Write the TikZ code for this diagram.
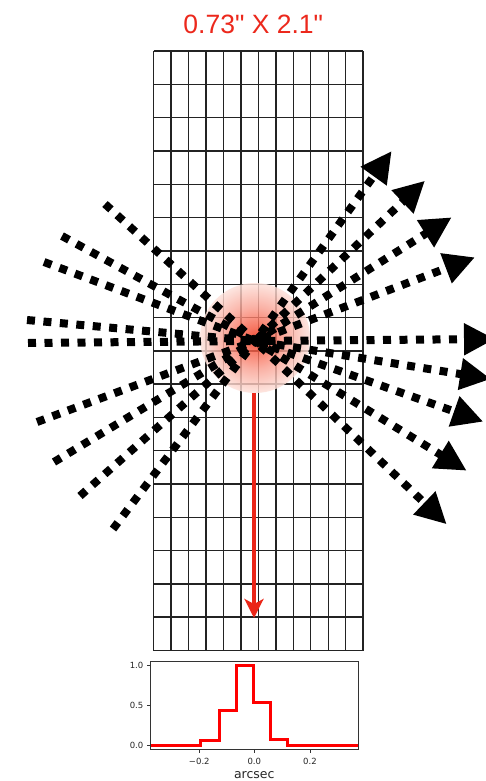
\documentclass[tikz,border=0pt]{standalone}
\usepackage{fontspec}
\setmainfont{Liberation Sans}
\newfontfamily\titlefont{Liberation Sans}
\newfontfamily\dejavu{DejaVu Sans}
\usetikzlibrary{arrows.meta}
\definecolor{titlered}{RGB}{236,40,28}
\definecolor{arrowred}{RGB}{235,38,24}
\definecolor{gridcol}{RGB}{35,35,35}
\definecolor{glowa}{RGB}{240,45,20}
\definecolor{glowb}{RGB}{246,90,65}
\definecolor{glowc}{RGB}{250,160,145}
\definecolor{glowd}{RGB}{253,225,218}
\pgfdeclareradialshading{glow}{\pgfpoint{0bp}{0bp}}{color(0bp)=(glowa); color(5bp)=(glowb); color(14bp)=(glowc); color(25bp)=(glowd); color(50bp)=(glowd)}
\begin{document}
\begin{tikzpicture}[x=1pt,y=-1pt,
  ray/.style={line width=8pt, dash pattern=on 8pt off 8.5pt, line cap=butt},
  rayarrow/.style={ray, -{Triangle[length=31pt 0 0, width=30pt 0 0]}},
  gridline/.style={gridcol, line width=1.4pt},
  ticklabel/.style={font=\dejavu\fontsize{8.5}{10}\selectfont, text=black!85, inner sep=0pt},
  tickmark/.style={black!80, line width=0.8pt}]
\clip (0,0) rectangle (486,781);
\fill[white] (0,0) rectangle (486,781);
% title
\node[titlered, font=\titlefont\fontsize{26.5}{30}\selectfont, anchor=base, inner sep=0pt] (title) at (253.3,33.3) {0.73" X 2.1"};
% grid
\foreach \i in {0,...,12} \draw[gridline] ({153.7+17.45*\i},51.2) -- ({153.7+17.45*\i},650.5);
\foreach \j in {0,...,18} \draw[gridline] (153.7,{51.2+33.29*\j}) -- (363.1,{51.2+33.29*\j});
% glow
\shade[shading=glow, opacity=0.82] (255,338) circle[radius=55pt];
% rays
\coordinate (c) at (255,341);
\coordinate (l1) at (105,204);
\coordinate (l2) at (62,236);
\coordinate (l3) at (44,262);
\coordinate (l4) at (27,320);
\coordinate (l5) at (28,343);
\coordinate (l6) at (37,422);
\coordinate (l7) at (54,462);
\coordinate (l8) at (80,496);
\coordinate (l9) at (113,529);
\foreach \n in {l1,l2,l3,l4,l5,l6,l7,l8,l9} \draw[ray] (\n) -- (c);
\coordinate (r1) at (391.7,151);
\coordinate (r2) at (425,180.7);
\coordinate (r3) at (451.7,217.3);
\coordinate (r4) at (475,257.3);
\coordinate (r5) at (495,339);
\coordinate (r6) at (491,379);
\coordinate (r7) at (483.3,421.7);
\coordinate (r8) at (466.7,470.7);
\coordinate (r9) at (446.7,524.3);
\foreach \n/\ph in {r1/6,r2/13,r3/1,r4/8,r5/4,r6/11,r7/15,r8/2,r9/9} \draw[rayarrow, dash phase=\ph pt] (c) -- (\n);
% red arrow
\coordinate (gbot) at (254,393);
\coordinate (gtip) at (254,618);
\draw[arrowred, line width=4pt, -{Stealth[length=19pt 0 0, width=19pt 0 0, inset=5pt]}] (gbot) -- (gtip);
% plot
\draw[red, line width=3pt] (150.7,745.8) -- (200,745.8) -- (200,740.5) -- (219.3,740.5) -- (219.3,710.3) -- (236.7,710.3) -- (236.7,665) -- (253.3,665) -- (253.3,702.2) -- (270.7,702.2) -- (270.7,739.3) -- (287.3,739.3) -- (287.3,745.8) -- (358.3,745.8);
\draw[black!80, line width=0.9pt] (150.7,661.7) rectangle (358.3,749.3);
\foreach \y in {665,705.5,745.8} \draw[tickmark] (150.7,\y) -- (147.2,\y);
\foreach \x in {199.3,254.3,310} \draw[tickmark] (\x,749.3) -- (\x,752.8);
\node[ticklabel, anchor=base east] (ya) at (143.5,668) {1.0};
\node[ticklabel, anchor=base east] (yb) at (143.5,708.5) {0.5};
\node[ticklabel, anchor=base east] (yc) at (143.5,748.8) {0.0};
\node[ticklabel, anchor=base] (xa) at (199.3,764) {−0.2};
\node[ticklabel, anchor=base] (xb) at (254.3,764) {0.0};
\node[ticklabel, anchor=base] (xc) at (310,764) {0.2};
\node[font=\dejavu\fontsize{12.5}{14}\selectfont, text=black!85, anchor=base, inner sep=0pt] (xlab) at (254.3,778) {arcsec};
\end{tikzpicture}
\end{document}
